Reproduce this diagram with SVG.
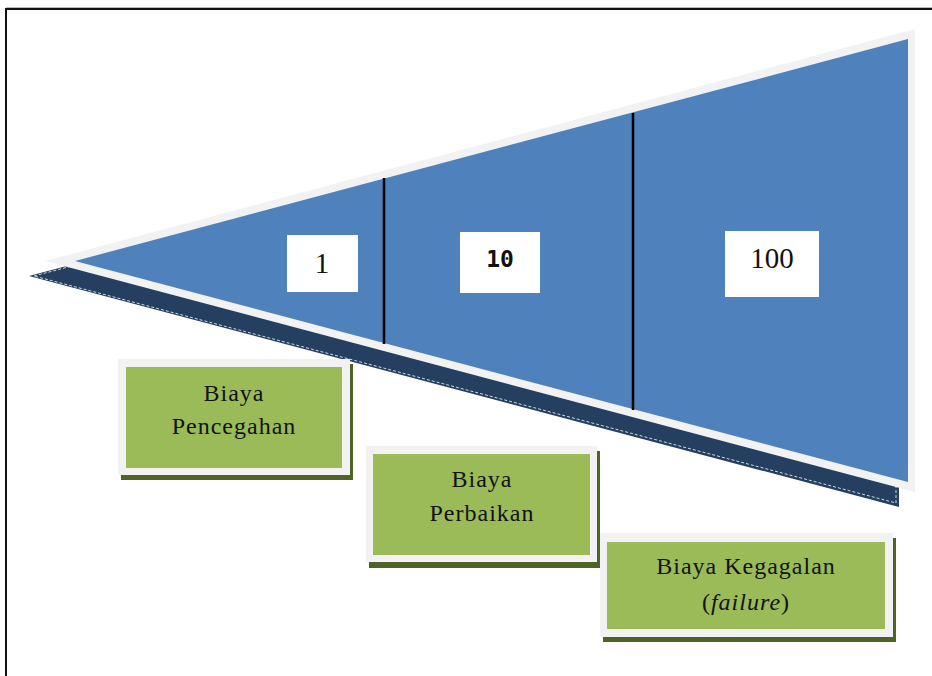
<svg xmlns="http://www.w3.org/2000/svg" width="932" height="676" viewBox="0 0 932 676">
  <style>
    .frame { fill: none; stroke: #111111; stroke-width: 2; }
    .rim { fill: #F2F2F2; }
    .cone { fill: #4F81BD; }
    .cone-shadow { fill: #243F60; }
    .cone-shadow-edge { fill: none; stroke: #FFFFFF; stroke-width: 0.8; stroke-dasharray: 3 2; }
    .divider { stroke: #000000; stroke-width: 2.5; }
    .num-box { fill: #FFFFFF; }
    .num { font-family: "Liberation Serif", "Times New Roman", serif; font-size: 29px; fill: #111111; text-anchor: middle; }
    .num-mono { font-family: "DejaVu Sans Mono", "Liberation Mono", monospace; font-size: 23px; font-weight: bold; fill: #111111; text-anchor: middle; }
    .card-shadow { fill: #4F6228; }
    .card-rim { fill: #F2F2F2; }
    .card { fill: #9BBB59; }
    .label { font-family: "Liberation Serif", "Times New Roman", serif; font-size: 24px; letter-spacing: 1px; fill: #111111; text-anchor: middle; }
  </style>

  <!-- page frame -->
  <line x1="6" y1="7.5" x2="932" y2="7.5" stroke="#BBBBBB" stroke-width="1"/>
  <rect class="frame" x="6" y="9" width="940" height="680"/>

  <!-- cost cone -->
  <g id="cone">
    <polygon class="cone-shadow" points="29,276 899,44 899,507"/>
    <polygon class="cone-shadow-edge" points="34,276 896,47 896,503"/>
    <polygon class="rim" points="45,261 915,29 915,492"/>
    <polygon class="cone" points="75,261 908,39 908,482"/>
  </g>

  <!-- stage dividers -->
  <g id="connectors">
    <line class="divider" x1="384" y1="178" x2="384" y2="344"/>
    <line class="divider" x1="633" y1="113" x2="633" y2="410"/>
  </g>

  <!-- cost multipliers -->
  <g id="cost-1">
    <rect class="num-box" x="287" y="235" width="71" height="57"/>
    <text class="num" x="322" y="273">1</text>
  </g>
  <g id="cost-10">
    <rect class="num-box" x="460" y="232" width="80" height="61"/>
    <text class="num-mono" x="500" y="267">10</text>
  </g>
  <g id="cost-100">
    <rect class="num-box" x="725" y="231" width="94" height="66"/>
    <text class="num" x="772" y="268">100</text>
  </g>

  <!-- cost category cards -->
  <g id="biaya-pencegahan">
    <rect class="card-shadow" x="121" y="364" width="232" height="116"/>
    <rect class="card-rim" x="118" y="359" width="232" height="116"/>
    <rect class="card" x="126" y="367" width="216" height="101"/>
    <text class="label" x="234" y="401">Biaya</text>
    <text class="label" x="234" y="434">Pencegahan</text>
  </g>

  <g id="biaya-perbaikan">
    <rect class="card-shadow" x="369" y="451" width="231" height="117"/>
    <rect class="card-rim" x="366" y="446" width="231" height="116"/>
    <rect class="card" x="373" y="454" width="217" height="101"/>
    <text class="label" x="482" y="487">Biaya</text>
    <text class="label" x="482" y="521">Perbaikan</text>
  </g>

  <g id="biaya-kegagalan">
    <rect class="card-shadow" x="603" y="538" width="293" height="104"/>
    <rect class="card-rim" x="600" y="533" width="293" height="104"/>
    <rect class="card" x="607" y="542" width="278" height="87"/>
    <text class="label" x="746" y="574">Biaya Kegagalan</text>
    <text class="label" x="746" y="610">(<tspan font-style="italic">failure</tspan>)</text>
  </g>
</svg>
